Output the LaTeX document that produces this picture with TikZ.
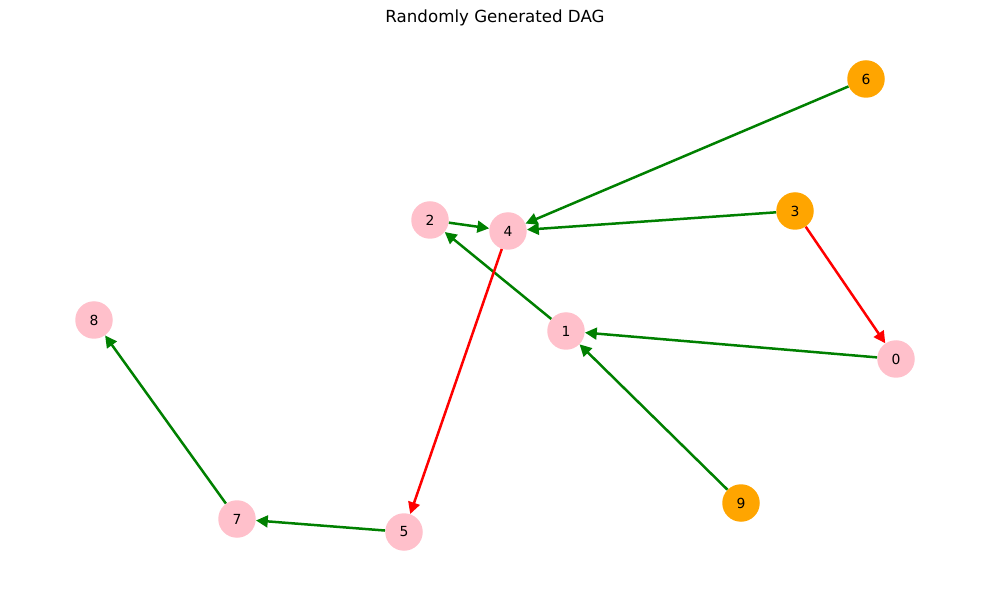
\documentclass[tikz,border=0pt]{standalone}
\usepackage{fontspec}
\setmainfont{DejaVu Sans}
\usetikzlibrary{arrows.meta}
\definecolor{nodepink}{RGB}{255,192,203}
\definecolor{nodeorange}{RGB}{255,165,0}
\definecolor{edgegreen}{RGB}{0,128,0}
\definecolor{edgered}{RGB}{255,0,0}

\begin{document}
\begin{tikzpicture}[
    x=0.72pt, y=-0.72pt,
    vertex/.style={circle, fill=nodepink, minimum size=27pt, inner sep=0pt, font=\fontsize{10}{12}\selectfont},
    source/.style={vertex, fill=nodeorange},
    edge/.style={-{Triangle[length=8.5pt, width=8.5pt]}, line width=1.8pt, draw=edgegreen},
    hot/.style={edge, draw=edgered}
]
    \useasboundingbox (0,0) rectangle (989,590);
    \node[font=\fontsize{12}{14}\selectfont] (title) at (495,18) {Randomly Generated DAG};

    % nodes
    \node[vertex] (n0) at (896,359) {0};
    \node[vertex] (n1) at (566,331) {1};
    \node[vertex] (n2) at (430,220) {2};
    \node[source] (n3) at (795,211) {3};
    \node[vertex] (n4) at (508,231) {4};
    \node[vertex] (n5) at (404,532) {5};
    \node[source] (n6) at (866,79) {6};
    \node[vertex] (n7) at (237,519) {7};
    \node[vertex] (n8) at (94,320) {8};
    \node[source] (n9) at (741,503) {9};

    % edges
    \draw[edge] (n6) -- (n4);
    \draw[edge] (n3) -- (n4);
    \draw[hot] (n3) -- (n0);
    \draw[edge] (n2) -- (n4);
    \draw[edge] (n1) -- (n2);
    \draw[edge] (n0) -- (n1);
    \draw[edge] (n9) -- (n1);
    \draw[hot] (n4) -- (n5);
    \draw[edge] (n5) -- (n7);
    \draw[edge] (n7) -- (n8);
\end{tikzpicture}
\end{document}
